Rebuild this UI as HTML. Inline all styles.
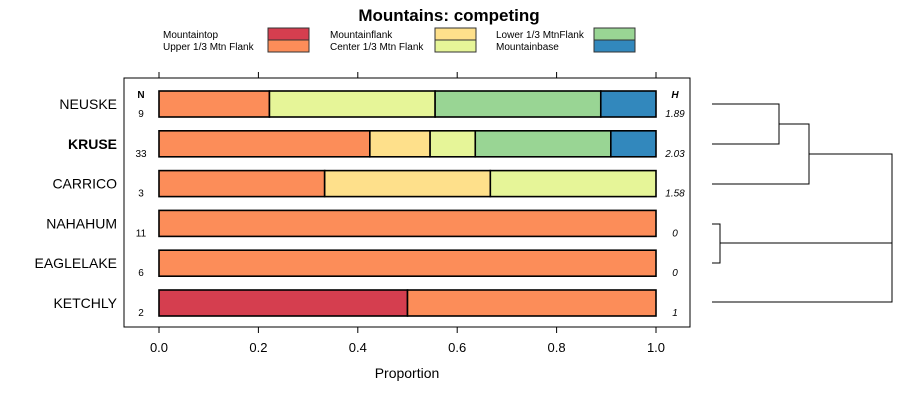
<!DOCTYPE html>
<html><head><meta charset="utf-8"><style>
body{margin:0;background:#fff}
svg{font-family:"Liberation Sans",sans-serif}
</style></head><body>
<svg id="c" width="900" height="400" xmlns="http://www.w3.org/2000/svg">
<text x="449" y="21" font-size="17" font-weight="bold" text-anchor="middle">Mountains: competing</text>
<g id="legend"></g>
<rect x="124" y="78" width="566" height="249" fill="none" stroke="#000"/>
<g id="bars"></g>
<g id="axis"></g>
<text x="141" y="98" font-size="10" font-weight="bold" text-anchor="middle">N</text>
<text x="675" y="98" font-size="10" font-weight="bold" font-style="italic" text-anchor="middle">H</text>
<text x="407" y="378" font-size="14" text-anchor="middle">Proportion</text>
<g id="dendro" stroke="#000" fill="none">
<path d="M712 104H779V144H712M779 124H809V184H712M809 154H892V302H712M712 224H720V263H712M720 243H892"/>
</g>
</svg>
<script>
const sites=["NEUSKE","KRUSE","CARRICO","NAHAHUM","EAGLELAKE","KETCHLY"];
const nVals=[9,33,3,11,6,2];
const hVals=["1.89","2.03","1.58","0","0","1"];
const categories=["Mountaintop","Upper 1/3 Mtn Flank","Mountainflank","Center 1/3 Mtn Flank","Lower 1/3 MtnFlank","Mountainbase"];
const colors=["#d53e4f","#fc8d59","#fee08b","#e6f598","#99d594","#3288bd"];
const counts=[
 [0,2,0,3,3,1],
 [0,14,4,3,9,3],
 [0,1,1,1,0,0],
 [0,11,0,0,0,0],
 [0,6,0,0,0,0],
 [1,1,0,0,0,0]];
const ticks=[0,0.2,0.4,0.6,0.8,1.0];
const NS="http://www.w3.org/2000/svg";
const x=v=>159+v*497;
const yc=i=>104+i*39.8;
function mk(t,a,p){const e=document.createElementNS(NS,t);for(const k in a)e.setAttribute(k,a[k]);(p||document.getElementById('c')).appendChild(e);return e;}
const bars=document.getElementById('bars'),axis=document.getElementById('axis'),leg=document.getElementById('legend');
sites.forEach((s,i)=>{
 const tot=counts[i].reduce((a,b)=>a+b,0);let cum=0;
 counts[i].forEach((c,j)=>{if(!c)return;const p=c/tot;
  const r=mk('rect',{x:x(cum),y:yc(i)-13,width:x(cum+p)-x(cum),height:26,fill:colors[j],stroke:'#000','stroke-width':1.6},bars);
  
  
  cum+=p;});
 const t=mk('text',{x:117,y:yc(i)+5,'font-size':14,'text-anchor':'end','font-weight':s==="KRUSE"?'bold':'normal'});t.textContent=s;
 
 
 const n=mk('text',{x:141,y:yc(i)+13,'font-size':10,'text-anchor':'middle'});n.textContent=nVals[i];
 
 
 const h=mk('text',{x:675,y:yc(i)+13,'font-size':10,'font-style':'italic','text-anchor':'middle'});h.textContent=hVals[i];
 
 
});
ticks.forEach(v=>{
 mk('line',{x1:x(v),x2:x(v),y1:327,y2:333,stroke:'#000'},axis);
 mk('line',{x1:x(v),x2:x(v),y1:72,y2:78,stroke:'#000'},axis);
 const t=mk('text',{x:x(v),y:352,'font-size':13,'text-anchor':'middle'},axis);t.textContent=v.toFixed(1);
 
 
});
const lx=[163,330,496],bx=[268,435,594];
categories.forEach((c,j)=>{const col=Math.floor(j/2),row=j%2;
 const t=mk('text',{x:lx[col],y:38+row*12,'font-size':10},leg);t.textContent=c;
 
 
 const r=mk('rect',{x:bx[col],y:28+row*12,width:41,height:12,fill:colors[j],stroke:'#333'},leg);
 
 
});
</script>
</body></html>
